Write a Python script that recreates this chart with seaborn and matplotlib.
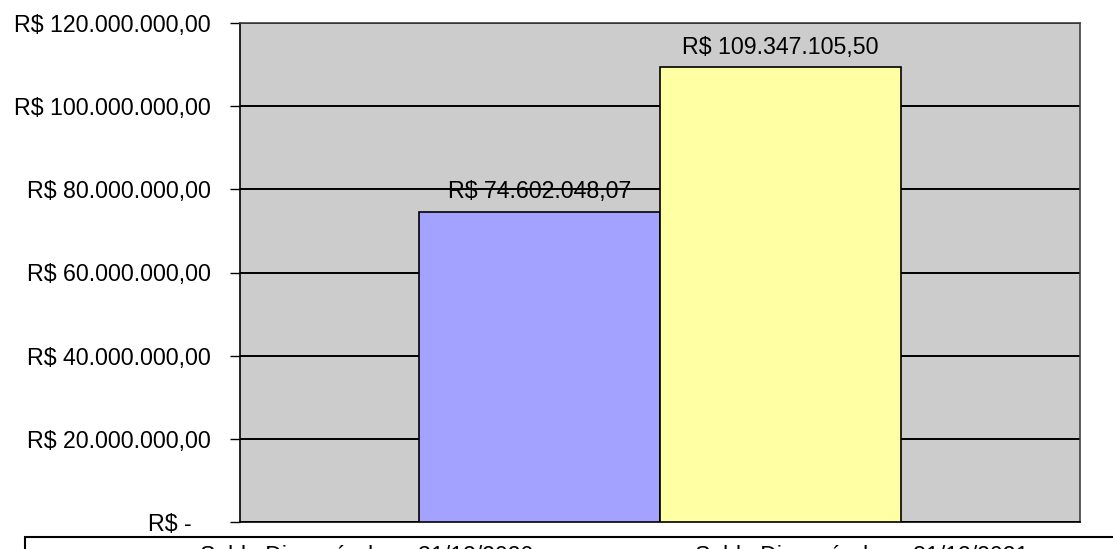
import matplotlib
matplotlib.use("Agg")
import matplotlib.pyplot as plt
import seaborn as sns
import pandas as pd
from matplotlib.ticker import FuncFormatter, MultipleLocator
from matplotlib.patches import Rectangle

# Data
series = ["Saldo Disponível em 31/12/2020", "Saldo Disponível em 31/12/2021"]
values = [74602048.07, 109347105.50]
category = ["Saldo"]
colors = ["#A3A3FF", "#FFFFA3"]

df = pd.DataFrame({"cat": category * len(series), "serie": series, "valor": values})

def brl(v, pos=None):
    if abs(v) < 0.5:
        return "R$ -   "
    s = f"{v:,.2f}"
    s = s.replace(",", "X").replace(".", ",").replace("X", ".")
    return "R$ " + s

sns.set_theme(style="white")
plt.rcParams["font.family"] = ["Liberation Sans", "DejaVu Sans"]

fig = plt.figure(figsize=(11.13, 5.49), dpi=100)
ax = fig.add_axes([240/1113, 1-522/549, 840/1113, 499/549])
ax.set_facecolor("#CCCCCC")

sns.barplot(data=df, x="cat", y="valor", hue="serie", palette=colors,
            saturation=1, width=0.574, edgecolor="black", linewidth=1.2, ax=ax,
            legend=False, zorder=3)

ax.set_ylim(0, 120000000)
ax.set_xlim(-0.5, 0.5)
ax.yaxis.set_major_locator(MultipleLocator(20000000))
ax.yaxis.set_major_formatter(FuncFormatter(brl))
ax.grid(axis="y", color="black", linewidth=1.4, zorder=1)
ax.set_axisbelow(True)
ax.set_xticks([])
ax.set_xlabel("")
ax.set_ylabel("")
ax.tick_params(axis="y", labelsize=16.7, colors="black", length=7, width=1,
               direction="out", left=True, pad=14)
for lab in ax.get_yticklabels():
    lab.set_color("black")

for sp in ax.spines.values():
    sp.set_color("#404040")
    sp.set_linewidth(1.2)
ax.spines["left"].set_color("black")
ax.spines["bottom"].set_color("black")

for cont in ax.containers:
    ax.bar_label(cont, labels=[brl(v) for v in cont.datavalues], padding=6,
                 fontsize=16.7, color="black")

# Legend box at the bottom, mostly cut off by the figure edge
frame = Rectangle((25/1113, 1-600/549), 1.2, 63/549, transform=fig.transFigure,
                  facecolor="white", edgecolor="black", linewidth=1.5,
                  clip_on=False)
fig.add_artist(frame)
fig.text(200/1113, 1-563/549, series[0], fontsize=16.7, color="black", va="baseline", ha="left")
fig.text(695/1113, 1-563/549, series[1], fontsize=16.7, color="black", va="baseline", ha="left")

fig.savefig("out.png", dpi=100, facecolor="white")
